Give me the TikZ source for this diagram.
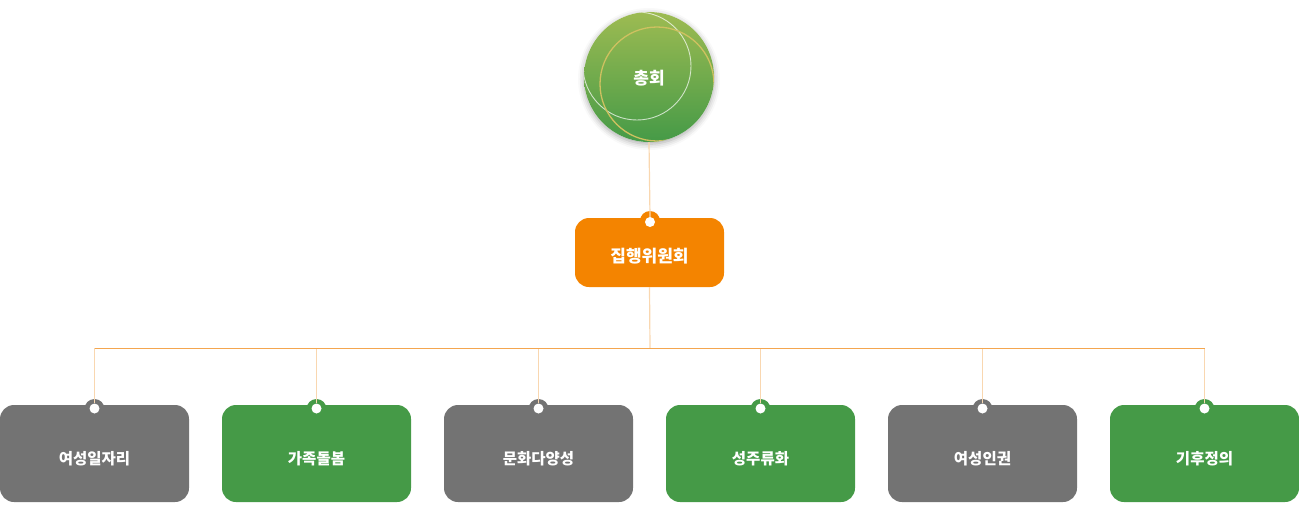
\documentclass[tikz,border=0pt]{standalone}
\usepackage{fontspec}
\setmainfont{Noto Sans CJK KR}
\usetikzlibrary{shadows.blur}
\definecolor{cgray}{HTML}{737373}
\definecolor{cgreen}{HTML}{459A47}
\definecolor{corange}{HTML}{F48400}
\definecolor{cpeach}{HTML}{F9D7B0}
\definecolor{cline}{HTML}{F4A64F}
\definecolor{ctop}{HTML}{9DBB52}
\definecolor{cbot}{HTML}{459A47}
\definecolor{cring}{HTML}{CFC160}
\tikzset{
  dept/.style={rectangle, rounded corners=14pt, minimum width=189pt, minimum height=97pt, inner sep=0pt, text=white, text height=22pt, text depth=0pt, font=\bfseries\fontsize{15.5}{15.5}\selectfont},
  graybox/.style={dept, fill=cgray},
  greenbox/.style={dept, fill=cgreen},
  tabhole/.style={circle, fill=white, minimum size=10pt, inner sep=0pt},
  vline/.style={draw=cpeach, line width=1.2pt},
  hline/.style={draw=cline, line width=1pt},
}
\begin{document}
\begin{tikzpicture}[x=1pt,y=-1pt]
\useasboundingbox (0,0) rectangle (1299,504);
% top circle
\fill[white, blur shadow={shadow xshift=0pt, shadow yshift=-2pt, shadow blur radius=6pt, shadow opacity=35}] (649,77) circle (65);
\shade[top color=ctop, bottom color=cbot] (649,77) circle (65);
\begin{scope}
\clip (649,77) circle (65);
\draw[white, opacity=0.7, line width=0.9pt] (637,66) circle (54);
\draw[cring, line width=1.3pt] (657,84) circle (57);
\end{scope}
\node[circle, minimum size=130pt, inner sep=0pt, text=white, text height=15pt, text depth=0pt, font=\bfseries\fontsize{17}{17}\selectfont] (gen) at (649,77) {총회};
% executive
\fill[corange] (650,221) circle (10);
\node[rectangle, rounded corners=14pt, minimum width=149pt, minimum height=69pt, inner sep=0pt, fill=corange, text=white, text height=19pt, text depth=0pt, font=\bfseries\fontsize{17}{17}\selectfont] (exec) at (649.5,252.5) {집행위원회};
\node[tabhole] (exectab) at (650,222) {};
\draw[vline] (gen.south) -- (exectab.north);
\coordinate (mid) at (650,348);
\draw[vline] (exec.south) -- (mid);
% departments
\foreach \i/\x/\st/\t/\c in {1/94.5/graybox/여성일자리/cgray, 2/316.5/greenbox/가족돌봄/cgreen, 3/538.5/graybox/문화다양성/cgray, 4/760.5/greenbox/성주류화/cgreen, 5/982.5/graybox/여성인권/cgray, 6/1204.5/greenbox/기후정의/cgreen}{
  \coordinate (j\i) at (\x,348);
  \fill[\c] (\x,409) circle (10);
  \node[\st] (d\i) at (\x,453.5) {\t};
  \node[tabhole] (t\i) at (\x,408.5) {};
  \draw[vline] (j\i) -- (t\i.north);
}
\draw[hline] (j1) -- (j6);
\end{tikzpicture}
\end{document}
